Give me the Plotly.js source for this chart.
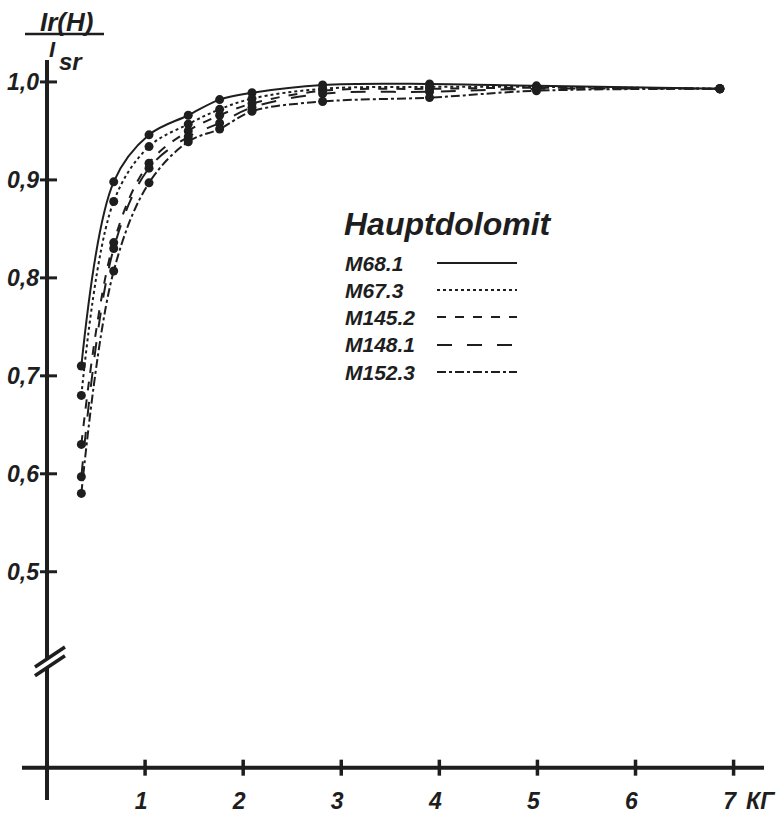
<!DOCTYPE html>
<html><head><meta charset="utf-8">
<script src="https://cdn.plot.ly/plotly-3.0.1.min.js"></script>
<style>html,body{margin:0;padding:0;background:#fff}</style>
</head><body><div id="chart" style="width:783px;height:814px"></div>
<script>
// Field H (kilogauss) at which points were measured
const fieldH = [0.35, 0.68, 1.04, 1.44, 1.76, 2.09, 2.81, 3.9, 4.99, 6.86];
// Ir(H)/Isr for each sample
const m681  = [0.710, 0.898, 0.946, 0.966, 0.982, 0.989, 0.997, 0.998, 0.996, 0.993];
const m673  = [0.680, 0.878, 0.934, 0.957, 0.972, 0.983, 0.993, 0.995, 0.995, 0.993];
const m1452 = [0.630, 0.836, 0.917, 0.950, 0.966, 0.978, 0.991, 0.993, 0.994, 0.993];
const m1481 = [0.597, 0.830, 0.912, 0.944, 0.958, 0.974, 0.988, 0.990, 0.993, 0.993];
const m1523 = [0.580, 0.807, 0.897, 0.939, 0.952, 0.970, 0.980, 0.984, 0.991, 0.993];
const seriesNames = ['M68.1', 'M67.3', 'M145.2', 'M148.1', 'M152.3'];
const seriesValues = [m681, m673, m1452, m1481, m1523];
const seriesDash = ['solid', 'dot', 'dash', 'longdash', 'dashdot'];
const xTickVals = [1, 2, 3, 4, 5, 6, 7];
const xTickText = ['1', '2', '3', '4', '5', '6', '7'];
const yTickVals = [0.5, 0.6, 0.7, 0.8, 0.9, 1.0];
const yTickText = ['0,5', '0,6', '0,7', '0,8', '0,9', '1,0'];
const legendTitle = 'Hauptdolomit';
const xUnit = 'КГ';
const yTitleTop = 'Ir(H)';
const yTitleI = 'I';
const yTitleSub = 'sr';

const INK = '#1e1e1e';
const FONT = 'Liberation Sans, Arial, sans-serif';
const W = 783, Hh = 814;
const M = {l: 22, r: 19, t: 60, b: 14};
const PW = W - M.l - M.r, PH = Hh - M.t - M.b;
const px = v => (v - M.l) / PW;
const py = v => (Hh - M.b - v) / PH;

const xRange = [-0.255, 7.31];
const yRange = [0.267, 1.0224];
const yAxisBase = 0.3;   // value where the drawn x-axis sits (axis broken below 0.5)
const xAxisBase = 0;

const traces = seriesNames.map((name, i) => ({
  type: 'scatter', mode: 'lines+markers', name: name,
  x: fieldH, y: seriesValues[i],
  line: {color: INK, width: 2, dash: seriesDash[i], shape: 'spline', smoothing: 1},
  marker: {color: INK, size: 9, symbol: 'circle'},
  showlegend: false, hoverinfo: 'x+y+name'
}));

const shapes = [];
shapes.push({type: 'line', xref: 'x', yref: 'y', x0: xRange[0], x1: xRange[1], y0: yAxisBase, y1: yAxisBase, line: {color: INK, width: 4}});
shapes.push({type: 'line', xref: 'x', yref: 'y', x0: xAxisBase, x1: xAxisBase, y0: yRange[0], y1: yRange[1], line: {color: INK, width: 4}});
const xt = 8 / PH * (yRange[1] - yRange[0]);
xTickVals.forEach(v => shapes.push({type: 'line', xref: 'x', yref: 'y', x0: v, x1: v, y0: yAxisBase - xt, y1: yAxisBase + xt, line: {color: INK, width: 3.5}}));
const ytL = 7 / PW * (xRange[1] - xRange[0]), ytR = 10 / PW * (xRange[1] - xRange[0]);
yTickVals.forEach(v => shapes.push({type: 'line', xref: 'x', yref: 'y', x0: -ytL, x1: ytR, y0: v, y1: v, line: {color: INK, width: 3}}));
const dxU = 15 / PW * (xRange[1] - xRange[0]);
const dyU = 10 / PH * (yRange[1] - yRange[0]);
const b1 = 0.404, b2 = 0.413, bx = 0.03;
shapes.push({type: 'path', xref: 'x', yref: 'y',
  path: `M ${bx - dxU},${b1 - dyU} L ${bx + dxU},${b1 + dyU} L ${bx + dxU},${b2 + dyU} L ${bx - dxU},${b2 - dyU} Z`,
  fillcolor: '#ffffff', line: {width: 0}});
[b1, b2].forEach(b => shapes.push({type: 'line', xref: 'x', yref: 'y', x0: bx - dxU, x1: bx + dxU, y0: b - dyU, y1: b + dyU, line: {color: INK, width: 3.5}}));
shapes.push({type: 'line', xref: 'paper', yref: 'paper', x0: px(25), x1: px(104), y0: py(34), y1: py(34), line: {color: INK, width: 2.5}});

const tf = (size) => ({family: FONT, size: size, color: INK, style: 'italic', weight: 'bold'});
const annotations = [];
annotations.push({xref: 'paper', yref: 'paper', x: px(66), y: py(22), text: yTitleTop, showarrow: false,
  xanchor: 'center', yanchor: 'middle', font: tf(26)});
annotations.push({xref: 'paper', yref: 'paper', x: px(47), y: py(50), text: yTitleI, showarrow: false,
  xanchor: 'left', yanchor: 'middle', font: tf(22)});
annotations.push({xref: 'paper', yref: 'paper', x: px(57), y: py(62), text: yTitleSub, showarrow: false,
  xanchor: 'left', yanchor: 'middle', font: tf(24)});
annotations.push({xref: 'paper', yref: 'paper', x: px(744), y: py(801), text: xUnit, showarrow: false,
  xanchor: 'left', yanchor: 'middle', font: tf(23)});
annotations.push({xref: 'paper', yref: 'paper', x: px(342), y: py(224), text: legendTitle, showarrow: false,
  xanchor: 'left', yanchor: 'middle', font: tf(32)});
const legY = [263, 290, 317, 345, 372];
seriesNames.forEach((name, i) => {
  annotations.push({xref: 'paper', yref: 'paper', x: px(343), y: py(legY[i]), text: name, showarrow: false,
    xanchor: 'left', yanchor: 'middle', font: tf(21)});
  shapes.push({type: 'line', xref: 'paper', yref: 'paper', x0: px(437), x1: px(517), y0: py(legY[i]), y1: py(legY[i]),
    line: {color: INK, width: 2, dash: seriesDash[i]}});
});

const layout = {
  width: W, height: Hh, margin: M,
  paper_bgcolor: '#ffffff', plot_bgcolor: '#ffffff',
  showlegend: false,
  xaxis: {range: xRange, anchor: 'free', position: py(768), showgrid: false, zeroline: false, showline: false,
    ticks: '', tickmode: 'array', tickvals: xTickVals, ticktext: xTickText, ticklabelstandoff: 17, ticklabelshift: -4,
    tickfont: tf(23), fixedrange: true},
  yaxis: {range: yRange, anchor: 'free', position: px(47), showgrid: false, zeroline: false, showline: false,
    ticks: '', tickmode: 'array', tickvals: yTickVals, ticktext: yTickText, ticklabelstandoff: 8,
    tickfont: tf(23), fixedrange: true},
  shapes: shapes, annotations: annotations
};

Plotly.newPlot('chart', traces, layout, {displayModeBar: false, staticPlot: true});
</script></body></html>
